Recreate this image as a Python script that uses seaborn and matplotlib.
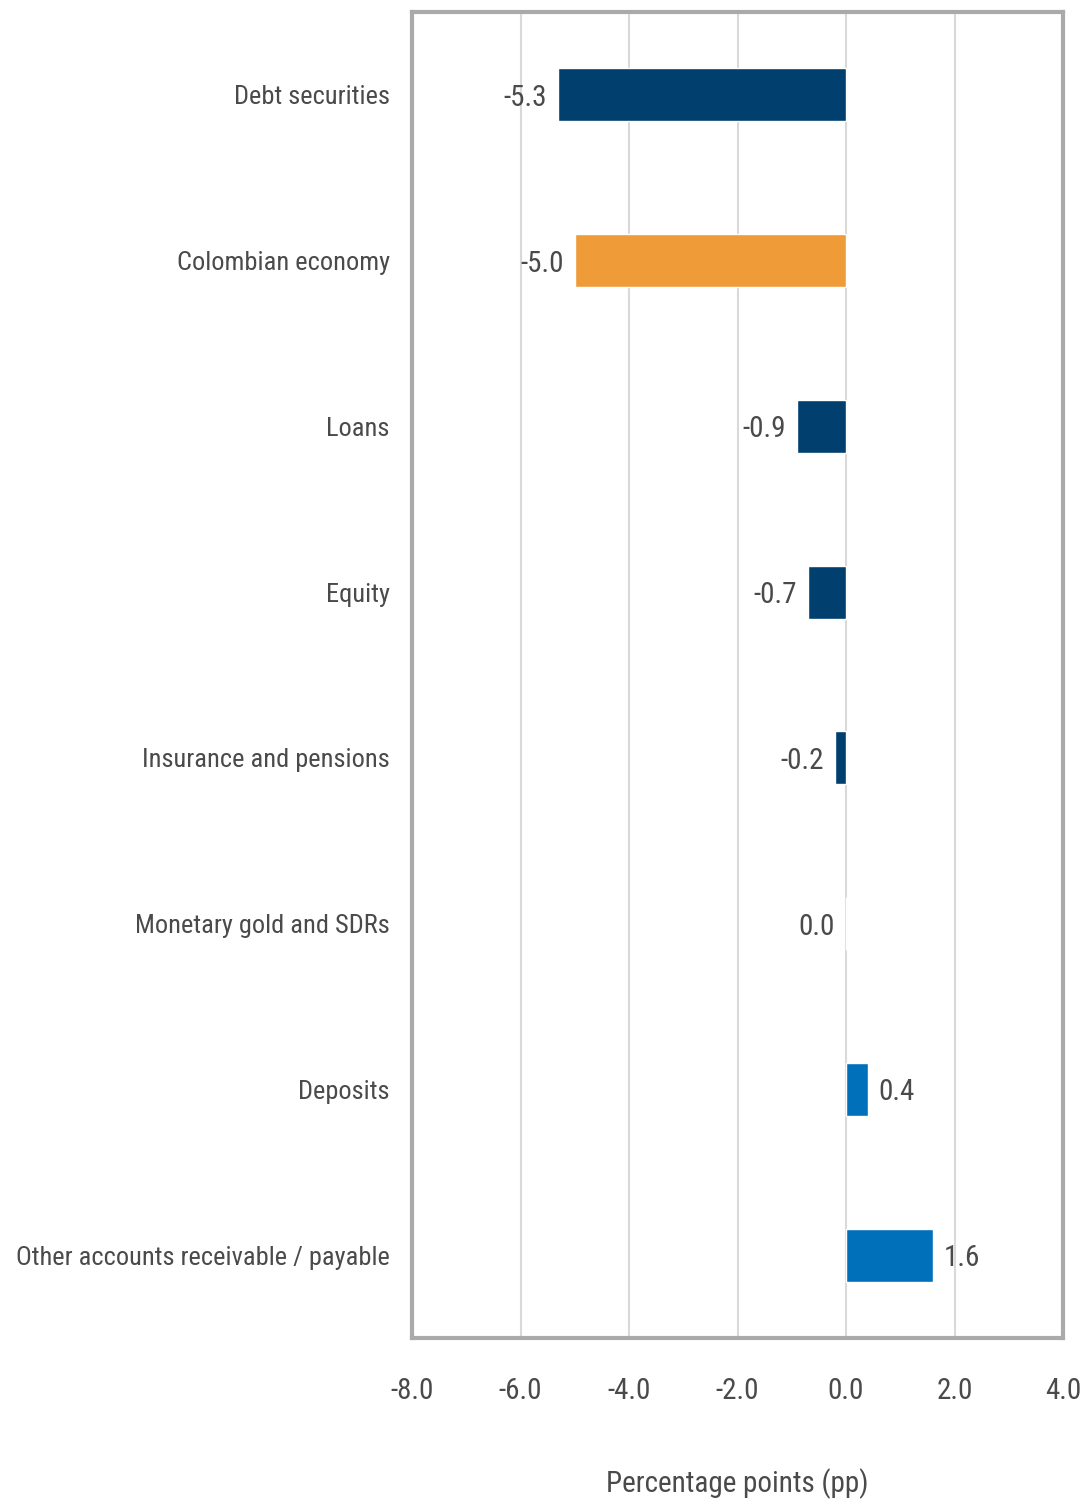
import matplotlib
matplotlib.use("Agg")
import matplotlib.pyplot as plt
from matplotlib import font_manager as fm
import seaborn as sns
import pandas as pd

categories = ["Debt securities", "Colombian economy", "Loans", "Equity",
              "Insurance and pensions", "Monetary gold and SDRs", "Deposits",
              "Other accounts receivable / payable"]
values = [-5.3, -5.0, -0.9, -0.7, -0.2, 0.0, 0.4, 1.6]
value_labels = ["-5.3", "-5.0", "-0.9", "-0.7", "-0.2", "0.0", "0.4", "1.6"]
bar_colors = ["#003F6E", "#EE9B38", "#003F6E", "#003F6E", "#003F6E", "#003F6E",
              "#0070BA", "#0070BA"]
x_ticks = [-8.0, -6.0, -4.0, -2.0, 0.0, 2.0, 4.0]
x_label = "Percentage points (pp)"

sns.set_theme(style="white")

names = {f.name for f in fm.fontManager.ttflist}
FONT = None
for cand in ["Roboto Condensed", "Liberation Sans Narrow", "Open Sans Condensed",
             "Noto Sans Condensed", "Arial Narrow"]:
    if cand in names:
        FONT = cand
        break
if FONT is None:
    FONT = "Roboto"
    FS, FSY = 17, 16
else:
    FS, FSY = 21, 19
plt.rcParams["font.family"] = [FONT, "DejaVu Sans"]

TXT = "#4A4A4A"

df = pd.DataFrame({"cat": categories, "val": values})

fig = plt.figure(figsize=(10.81, 15.08), dpi=100)
ax = fig.add_axes([412 / 1081, 1 - 1338 / 1508, (1063 - 412) / 1081, (1338 - 12) / 1508])

sns.barplot(data=df, y="cat", x="val", hue="cat", palette=bar_colors,
            width=0.32, legend=False, orient="h", ax=ax, saturation=1)

ax.set_xlim(-8, 4)
ax.set_ylim(len(categories) - 0.5, -0.5)
ax.set_xticks(x_ticks)
ax.set_xticklabels([f"{t:.1f}" for t in x_ticks], fontsize=FS, color=TXT)
ax.tick_params(axis="x", length=0, pad=28)
ax.tick_params(axis="y", length=0, pad=16, labelsize=FSY, labelcolor=TXT)
ax.set_ylabel("")
ax.set_xlabel(x_label, fontsize=FS, color=TXT, labelpad=46)

ax.xaxis.grid(True, color="#D9D9D9", linewidth=1.5)
ax.set_axisbelow(True)
for s in ax.spines.values():
    s.set_visible(True)
    s.set_color("#AAAAAA")
    s.set_linewidth(3)

for i, (v, lab) in enumerate(zip(values, value_labels)):
    if v > 0:
        ax.annotate(lab, xy=(v, i), xytext=(8, 0), textcoords="offset points",
                    ha="left", va="center_baseline", fontsize=FS, color=TXT)
    else:
        ax.annotate(lab, xy=(v, i), xytext=(-8, 0), textcoords="offset points",
                    ha="right", va="center_baseline", fontsize=FS, color=TXT)

fig.savefig("out.png", dpi=100)
